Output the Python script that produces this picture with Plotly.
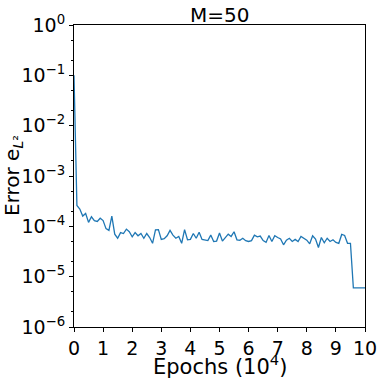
import plotly.graph_objects as go

# epochs in units of 10^4
epochs = [round(i * 0.1, 1) for i in range(101)]

error_l2 = [
    1.0e-1, 2.6e-4, 2.2e-4, 1.6e-4, 1.8e-4, 1.2e-4, 1.55e-4, 1.3e-4, 1.25e-4, 1.45e-4,
    1.3e-4, 9.0e-5, 8.3e-5, 1.6e-4, 7.0e-5, 5.8e-5, 7.5e-5, 7.2e-5, 8.8e-5, 7.8e-5,
    6.2e-5, 7.5e-5, 6.5e-5, 7.2e-5, 5.8e-5, 7.2e-5, 6.0e-5, 4.6e-5, 8.5e-5, 8.6e-5,
    5.5e-5, 5.7e-5, 6.5e-5, 8.3e-5, 6.7e-5, 5.8e-5, 6.3e-5, 4.6e-5, 8.6e-5, 5.4e-5,
    5.5e-5, 7.2e-5, 5.8e-5, 7.6e-5, 5.5e-5, 5.4e-5, 5.2e-5, 6.7e-5, 5.0e-5, 5.1e-5,
    7.4e-5, 5.1e-5, 6.0e-5, 7.0e-5, 6.3e-5, 7.8e-5, 5.4e-5, 5.3e-5, 5.8e-5, 5.2e-5,
    5.0e-5, 5.2e-5, 6.7e-5, 6.2e-5, 6.4e-5, 5.2e-5, 4.8e-5, 6.6e-5, 5.0e-5, 6.5e-5,
    6.0e-5, 5.6e-5, 4.3e-5, 5.3e-5, 5.8e-5, 5.0e-5, 5.5e-5, 5.0e-5, 6.3e-5, 5.8e-5,
    5.3e-5, 4.5e-5, 6.5e-5, 5.6e-5, 3.8e-5, 6.0e-5, 4.7e-5, 5.8e-5, 5.0e-5, 5.4e-5,
    4.8e-5, 4.6e-5, 6.9e-5, 6.6e-5, 4.6e-5, 4.6e-5, 6.0e-6, 6.0e-6, 6.0e-6, 6.0e-6,
    6.0e-6,
]

x_ticks = list(range(0, 11))
y_exponents = [-6, -5, -4, -3, -2, -1, 0]
y_ticks = [10.0 ** e for e in y_exponents]
y_ticktext = ["10<sup>%s</sup>" % str(e).replace("-", "\u2212") for e in y_exponents]

fig = go.Figure()
fig.add_trace(go.Scatter(
    x=epochs,
    y=error_l2,
    mode="lines",
    line=dict(color="#1f77b4", width=1.3),
))

axis_common = dict(
    showgrid=False,
    zeroline=False,
    showline=True,
    linecolor="black",
    linewidth=1,
    mirror=True,
    ticks="outside",
    ticklen=4,
    tickwidth=1,
    tickcolor="black",
    tickfont=dict(size=19, color="black"),
    automargin=False,
)

fig.update_layout(
    width=381,
    height=382,
    margin=dict(l=74, r=16, t=25, b=55),
    plot_bgcolor="white",
    paper_bgcolor="white",
    font=dict(family="DejaVu Sans", color="black"),
    showlegend=False,
    xaxis=dict(**axis_common, range=[0, 10], tickvals=x_ticks),
    yaxis=dict(
        **axis_common,
        type="log",
        range=[-6, 0],
        tickvals=y_ticks,
        ticktext=y_ticktext,
        minor=dict(ticks="outside", ticklen=2, tickcolor="black", showgrid=False),
    ),
    annotations=[
        dict(text="M=50", xref="paper", yref="paper", x=0.5, y=1,
             xanchor="center", yanchor="middle", yshift=10, showarrow=False,
             font=dict(size=20, color="black")),
        dict(text="Epochs (10<sup>4</sup>)", xref="paper", yref="paper", x=0.5, y=0,
             xanchor="center", yanchor="middle", yshift=-38, showarrow=False,
             font=dict(size=21, color="black")),
        dict(text="Error e<sub><i>L</i>²</sub>", xref="paper", yref="paper", x=0, y=0.5,
             xanchor="center", yanchor="middle", xshift=-61, textangle=-90,
             showarrow=False, font=dict(size=20, color="black")),
    ],
)

# drop the default 8px page margin so the figure starts at the window corner
fig.write_html(
    "out.html",
    config={"displayModeBar": False},
    post_script="document.body.style.margin = '0';",
)
